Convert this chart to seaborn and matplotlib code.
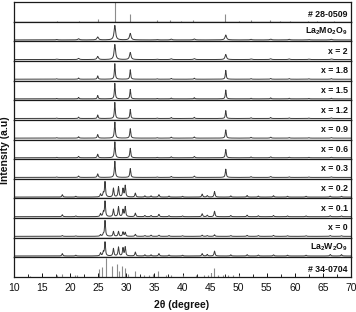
import numpy as np
import pandas as pd
import matplotlib
matplotlib.use("Agg")
import matplotlib.pyplot as plt
import seaborn as sns

sns.set_theme(style="white")
plt.rcParams['font.family'] = ['Liberation Sans', 'DejaVu Sans']
plt.rcParams['mathtext.fontset'] = 'custom'
plt.rcParams['mathtext.rm'] = 'Liberation Sans'
plt.rcParams['mathtext.bf'] = 'Liberation Sans:bold'

# ---------------- data ----------------
panel_labels = ["# 28-0509", r"La$_{\mathbf{2}}$Mo$_{\mathbf{2}}$O$_{\mathbf{9}}$", "x = 2", "x = 1.8", "x = 1.5",
                "x = 1.2", "x = 0.9", "x = 0.6", "x = 0.3", "x = 0.2", "x = 0.1", "x = 0",
                r"La$_{\mathbf{2}}$W$_{\mathbf{2}}$O$_{\mathbf{9}}$", "# 34-0704"]

# reference stick pattern JCPDS 28-0509 (La2Mo2O9)
ref_mo_pos = [17.6, 21.5, 24.9, 27.95, 30.7, 35.5, 37.8, 39.8, 41.9, 47.6, 50.1, 52.2, 55.6, 57.4, 59.1, 62.3, 64.0, 67.0]
ref_mo_int = [0.03, 0.05, 0.15, 1.00, 0.40, 0.06, 0.06, 0.05, 0.06, 0.38, 0.03, 0.06, 0.06, 0.04, 0.05, 0.03, 0.03, 0.04]

# reference stick pattern JCPDS 34-0704 (La2W2O9)
ref_w_pos = [12.9, 17.6, 18.5, 20.9, 21.2, 25.1, 25.7, 26.3, 27.5, 28.4, 28.7, 29.3, 29.8, 30.3, 31.6,
             33.2, 34.1, 34.7, 35.6, 37.1, 38.0, 40.1, 42.4, 43.9, 44.6, 45.1, 45.6, 46.3, 47.2, 48.1, 49.0, 50.0]
ref_w_int = [0.05, 0.10, 0.15, 0.10, 0.08, 0.40, 0.50, 1.00, 0.55, 0.70, 0.30, 0.55, 0.45, 0.15, 0.30,
             0.10, 0.10, 0.15, 0.30, 0.10, 0.12, 0.08, 0.10, 0.12, 0.12, 0.20, 0.45, 0.10, 0.08, 0.10, 0.12, 0.08]

# measured patterns: La2Mo2O9-type phase
mo_pos = [17.6, 21.5, 24.9, 27.95, 30.7, 35.5, 38.0, 42.1, 47.7, 52.2, 55.7, 59.0, 62.5, 66.5]
mo_int = {
    "La2Mo2O9": [0.02, 0.06, 0.15, 0.74, 0.33, 0.02, 0.04, 0.05, 0.25, 0.03, 0.04, 0.03, 0.02, 0.03],
    "x = 2":    [0.02, 0.06, 0.16, 0.77, 0.36, 0.02, 0.04, 0.05, 0.26, 0.03, 0.04, 0.03, 0.02, 0.03],
    "x = 1.8":  [0.02, 0.06, 0.17, 0.80, 0.48, 0.02, 0.04, 0.05, 0.45, 0.03, 0.04, 0.03, 0.02, 0.03],
    "x = 1.5":  [0.02, 0.07, 0.17, 0.80, 0.48, 0.02, 0.04, 0.06, 0.45, 0.03, 0.05, 0.03, 0.02, 0.03],
    "x = 1.2":  [0.02, 0.07, 0.18, 0.83, 0.46, 0.02, 0.05, 0.06, 0.40, 0.04, 0.05, 0.03, 0.02, 0.03],
    "x = 0.9":  [0.02, 0.07, 0.18, 0.83, 0.48, 0.02, 0.05, 0.06, 0.42, 0.04, 0.05, 0.03, 0.02, 0.03],
    "x = 0.6":  [0.02, 0.07, 0.18, 0.82, 0.48, 0.02, 0.05, 0.07, 0.42, 0.04, 0.05, 0.03, 0.02, 0.03],
    "x = 0.3":  [0.02, 0.07, 0.18, 0.83, 0.45, 0.02, 0.05, 0.07, 0.42, 0.04, 0.05, 0.03, 0.02, 0.03],
}
mo_width = {"La2Mo2O9": 0.32, "x = 2": 0.30, "x = 1.8": 0.18, "x = 1.5": 0.18, "x = 1.2": 0.18,
            "x = 0.9": 0.2, "x = 0.6": 0.2, "x = 0.3": 0.2}

# measured patterns: La2W2O9-type phase
w_pos = [18.6, 21.0, 25.4, 25.9, 26.2, 27.7, 28.6, 29.4, 29.8, 31.6, 33.3, 34.4, 35.8, 37.6, 40.0,
         43.5, 44.4, 45.7, 48.6, 51.5, 53.5, 56.2, 58.7, 62.0, 66.3, 68.3]
w_int = {
    "x = 0.2":  [0.12, 0.04, 0.15, 0.20, 0.77, 0.45, 0.52, 0.42, 0.58, 0.20, 0.06, 0.06, 0.12, 0.05, 0.04,
                 0.15, 0.08, 0.28, 0.06, 0.08, 0.05, 0.07, 0.04, 0.04, 0.05, 0.04],
    "x = 0.1":  [0.10, 0.04, 0.15, 0.22, 0.78, 0.38, 0.50, 0.35, 0.50, 0.18, 0.06, 0.06, 0.12, 0.05, 0.04,
                 0.15, 0.08, 0.28, 0.06, 0.08, 0.05, 0.06, 0.04, 0.04, 0.05, 0.04],
    "x = 0":    [0.04, 0.02, 0.08, 0.10, 0.80, 0.25, 0.25, 0.22, 0.20, 0.10, 0.04, 0.06, 0.06, 0.04, 0.03,
                 0.06, 0.04, 0.08, 0.04, 0.05, 0.04, 0.05, 0.03, 0.03, 0.04, 0.03],
    "La2W2O9":  [0.12, 0.04, 0.15, 0.20, 0.70, 0.38, 0.45, 0.40, 0.45, 0.20, 0.06, 0.06, 0.12, 0.05, 0.04,
                 0.12, 0.08, 0.25, 0.06, 0.07, 0.05, 0.06, 0.04, 0.04, 0.08, 0.07],
}

x_ticks = [10, 15, 20, 25, 30, 35, 40, 45, 50, 55, 60, 65, 70]

# ---------------- drawing ----------------
tt = np.arange(10.0, 70.0, 0.02)
baseline = 0.07


def profile(pos, hts, fwhm):
    y = np.full_like(tt, baseline)
    g = fwhm / 2.0
    for p, h in zip(pos, hts):
        y += h * g**2 / ((tt - p)**2 + g**2)
    return y


fig, axes = plt.subplots(14, 1, figsize=(3.56, 3.12), dpi=100, sharex=True,
                         gridspec_kw=dict(hspace=0))
fig.subplots_adjust(left=14/356, right=351/356, top=1-2/312, bottom=1-277/312)

line_col = "#3a3a3a"
stick_col = "#8c8c8c"
keys = ["ref_mo", "La2Mo2O9", "x = 2", "x = 1.8", "x = 1.5", "x = 1.2", "x = 0.9", "x = 0.6",
        "x = 0.3", "x = 0.2", "x = 0.1", "x = 0", "La2W2O9", "ref_w"]

for ax, key, lab in zip(axes, keys, panel_labels):
    if key == "ref_mo":
        ax.vlines(ref_mo_pos, 0.0, np.array(ref_mo_int) * 0.98, color=stick_col, lw=0.8)
        ly = 0.35
    elif key == "ref_w":
        ax.vlines(ref_w_pos, 0.0, np.array(ref_w_int) * 0.98, color=stick_col, lw=0.8)
        ly = 0.38
    elif key in mo_int:
        df = pd.DataFrame({"tt": tt, "I": profile(mo_pos, mo_int[key], mo_width[key])})
        sns.lineplot(data=df, x="tt", y="I", ax=ax, color=line_col, lw=0.7,
                     estimator=None, sort=False)
        ly = 0.5
    else:
        df = pd.DataFrame({"tt": tt, "I": profile(w_pos, w_int[key], 0.2)})
        sns.lineplot(data=df, x="tt", y="I", ax=ax, color=line_col, lw=0.7,
                     estimator=None, sort=False)
        ly = 0.5
    ax.set_ylim(0, 1)
    ax.set_xlim(10, 70)
    ax.set_yticks([])
    ax.set_ylabel("")
    ax.set_xlabel("")
    for s in ax.spines.values():
        s.set_color("#1a1a1a")
        s.set_linewidth(0.9)
    ax.text(0.99, ly, lab, transform=ax.transAxes, ha="right", va="center",
            fontsize=6.3, fontweight="bold", color="#111111")
    ax.tick_params(axis="x", which="both", bottom=False, labelbottom=False)

axb = axes[-1]
axb.set_xticks(x_ticks)
axb.set_xticks(np.arange(12.5, 70, 5), minor=True)
axb.tick_params(axis="x", which="major", bottom=True, labelbottom=True, direction="in",
                length=3, width=0.7, pad=4, labelsize=7.5, colors="#111111")
axb.tick_params(axis="x", which="minor", bottom=True, direction="in", length=2.5, width=0.7)

fig.text(182/356, 1-305/312, "2θ (degree)", ha="center", va="center", fontsize=7.5,
         fontweight="bold", color="#111111")
fig.text(5/356, 1-150/312, "Intensity (a.u)", ha="center", va="center", rotation=90,
         fontsize=7.5, fontweight="bold", color="#111111")

fig.savefig("out.png", dpi=100)
